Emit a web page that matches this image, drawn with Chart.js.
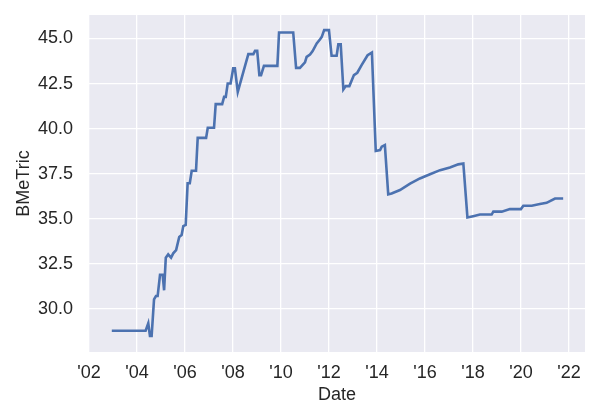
<!DOCTYPE html>
<html>
<head>
<meta charset="utf-8">
<script src="https://cdn.jsdelivr.net/npm/chart.js@4.4.1/dist/chart.umd.min.js"></script>
<style>
  html, body { margin: 0; padding: 0; background: #fff; }
  #wrap { width: 600px; height: 420px; }
</style>
</head>
<body>
<div id="wrap"><canvas id="myChart" width="600" height="420"></canvas></div>
<script>
// decimal year of each sample
var years = [
  2002.95, 2004.36, 2004.47, 2004.54, 2004.61, 2004.71, 2004.79, 2004.86, 2004.96, 2005.07,
  2005.13, 2005.20, 2005.30, 2005.42, 2005.51, 2005.63, 2005.76, 2005.86, 2005.93, 2006.03,
  2006.11, 2006.20, 2006.28, 2006.46, 2006.53, 2006.88, 2006.95, 2007.21, 2007.28, 2007.55,
  2007.63, 2007.70, 2007.78, 2007.90, 2008.01, 2008.08, 2008.20, 2008.64, 2008.85, 2008.92,
  2009.01, 2009.10, 2009.17, 2009.29, 2009.85, 2009.92, 2010.51, 2010.63, 2010.79, 2011.00,
  2011.07, 2011.21, 2011.32, 2011.49, 2011.63, 2011.70, 2011.80, 2012.00, 2012.11, 2012.32,
  2012.39, 2012.49, 2012.60, 2012.70, 2012.85, 2013.04, 2013.18, 2013.36, 2013.61, 2013.79,
  2013.95, 2014.13, 2014.20, 2014.33, 2014.47, 2014.61, 2014.96, 2015.38, 2015.79, 2016.21,
  2016.63, 2017.04, 2017.39, 2017.60, 2017.77, 2018.01, 2018.29, 2018.78, 2018.85, 2019.20,
  2019.54, 2020.00, 2020.10, 2020.45, 2020.79, 2021.07, 2021.42, 2021.76
];
var bmetric = [
  28.80, 28.80, 29.21, 28.51, 28.51, 30.54, 30.72, 30.72, 31.90, 31.90,
  31.04, 32.85, 33.03, 32.85, 33.09, 33.27, 34.00, 34.10, 34.60, 34.66,
  36.97, 36.97, 37.67, 37.67, 39.49, 39.49, 40.05, 40.05, 41.36, 41.36,
  41.76, 41.76, 42.50, 42.50, 43.34, 43.34, 42.04, 44.13, 44.13, 44.31,
  44.31, 42.97, 42.97, 43.48, 43.48, 45.33, 45.33, 43.37, 43.37, 43.67,
  43.98, 44.11, 44.30, 44.72, 44.96, 45.09, 45.46, 45.46, 44.04, 44.04,
  44.67, 44.67, 42.17, 42.36, 42.36, 42.97, 43.10, 43.52, 44.07, 44.22,
  38.76, 38.81, 39.00, 39.09, 36.36, 36.41, 36.60, 36.95, 37.24, 37.47,
  37.70, 37.85, 38.02, 38.07, 35.08, 35.15, 35.24, 35.24, 35.40, 35.40,
  35.54, 35.54, 35.73, 35.73, 35.82, 35.89, 36.13, 36.13
];
var xTicks = [2002, 2004, 2006, 2008, 2010, 2012, 2014, 2016, 2018, 2020, 2022];
var yTicks = [30, 32.5, 35, 37.5, 40, 42.5, 45];

var points = years.map(function (y, i) { return { x: y, y: bmetric[i] }; });

// grey plot background (seaborn darkgrid)
var plotBg = {
  id: 'plotBg',
  beforeDraw: function (chart) {
    var a = chart.chartArea, c = chart.ctx;
    c.save();
    c.fillStyle = '#EAEAF2';
    c.fillRect(a.left, a.top, a.right - a.left, a.bottom - a.top);
    c.restore();
  }
};

function noPad(s) {
  s.paddingTop = 0; s.paddingBottom = 0; s.paddingLeft = 0; s.paddingRight = 0;
}

var font = { family: 'Liberation Sans, Arial, sans-serif', size: 18 };

var ctx = document.getElementById('myChart').getContext('2d');
var myChart = new Chart(ctx, {
  type: 'line',
  data: {
    datasets: [{
      label: 'BMeTric',
      data: points,
      borderColor: '#4C72B0',
      borderWidth: 2.6,
      pointRadius: 0,
      tension: 0,
      fill: false
    }]
  },
  options: {
    responsive: false,
    animation: false,
    layout: { padding: { left: 13, right: 15, top: 15, bottom: 0 } },
    plugins: { legend: { display: false }, tooltip: { enabled: false } },
    scales: {
      x: {
        type: 'linear',
        min: 2002,
        max: 2022.67,
        afterBuildTicks: function (s) { s.ticks = xTicks.map(function (v) { return { value: v }; }); },
        afterFit: function (s) { s.height = 68; noPad(s); },
        grid: { color: '#ffffff', lineWidth: 1.3, drawTicks: false },
        border: { display: false },
        ticks: {
          padding: 10,
          color: '#262626',
          font: font,
          maxRotation: 0,
          callback: function (v) { return "'" + String(v).slice(2); }
        },
        title: { display: true, text: 'Date', color: '#262626', font: font, padding: { top: 0, bottom: 14 } }
      },
      y: {
        min: 27.62,
        max: 46.30,
        afterBuildTicks: function (s) { s.ticks = yTicks.map(function (v) { return { value: v }; }); },
        afterFit: function (s) { s.width = 76; noPad(s); },
        grid: { color: '#ffffff', lineWidth: 1.3, drawTicks: false },
        border: { display: false },
        ticks: {
          padding: 16,
          color: '#262626',
          font: font,
          callback: function (v) { return v.toFixed(1); }
        },
        title: { display: true, text: 'BMeTric', color: '#262626', font: font, padding: { top: 0, bottom: 0 } }
      }
    }
  },
  plugins: [plotBg]
});
</script>
</body>
</html>
